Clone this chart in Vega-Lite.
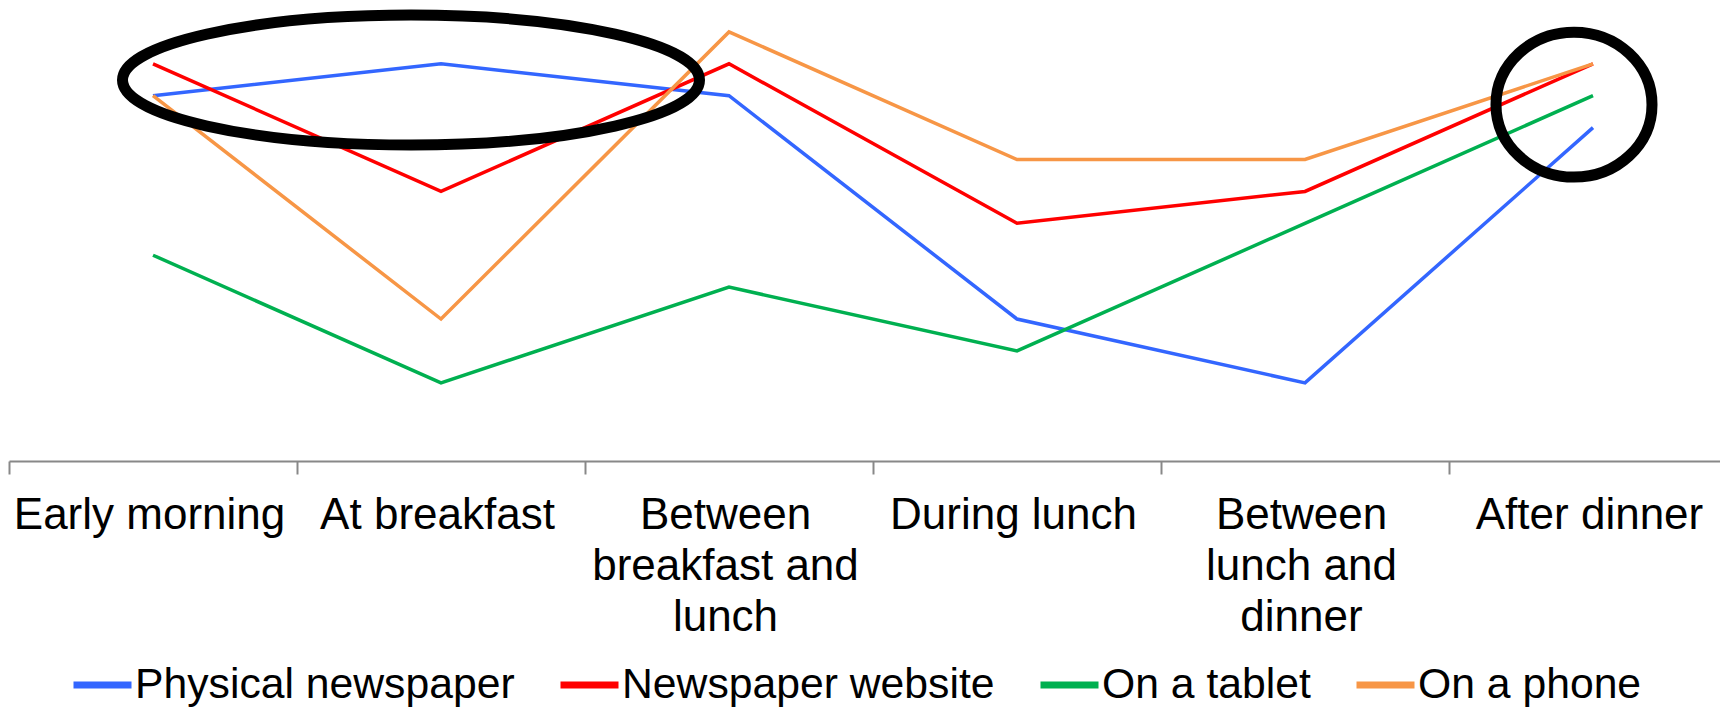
{
  "$schema": "https://vega.github.io/schema/vega-lite/v6.json",
  "width": 1711,
  "height": 461,
  "autosize": {"type": "none"},
  "padding": {"left": 9, "top": 0, "right": 0, "bottom": 246},
  "background": "white",
  "config": {
    "view": {"stroke": null},
    "font": "Liberation Sans"
  },
  "datasets": {
    "reading": [
      {"time": "Early morning", "medium": "Physical newspaper", "score": 12},
      {"time": "At breakfast", "medium": "Physical newspaper", "score": 13},
      {"time": "Between breakfast and lunch", "medium": "Physical newspaper", "score": 12},
      {"time": "During lunch", "medium": "Physical newspaper", "score": 5},
      {"time": "Between lunch and dinner", "medium": "Physical newspaper", "score": 3},
      {"time": "After dinner", "medium": "Physical newspaper", "score": 11},
      {"time": "Early morning", "medium": "Newspaper website", "score": 13},
      {"time": "At breakfast", "medium": "Newspaper website", "score": 9},
      {"time": "Between breakfast and lunch", "medium": "Newspaper website", "score": 13},
      {"time": "During lunch", "medium": "Newspaper website", "score": 8},
      {"time": "Between lunch and dinner", "medium": "Newspaper website", "score": 9},
      {"time": "After dinner", "medium": "Newspaper website", "score": 13},
      {"time": "Early morning", "medium": "On a tablet", "score": 7},
      {"time": "At breakfast", "medium": "On a tablet", "score": 3},
      {"time": "Between breakfast and lunch", "medium": "On a tablet", "score": 6},
      {"time": "During lunch", "medium": "On a tablet", "score": 4},
      {"time": "Between lunch and dinner", "medium": "On a tablet", "score": 8},
      {"time": "After dinner", "medium": "On a tablet", "score": 12},
      {"time": "Early morning", "medium": "On a phone", "score": 12},
      {"time": "At breakfast", "medium": "On a phone", "score": 5},
      {"time": "Between breakfast and lunch", "medium": "On a phone", "score": 14},
      {"time": "During lunch", "medium": "On a phone", "score": 10},
      {"time": "Between lunch and dinner", "medium": "On a phone", "score": 10},
      {"time": "After dinner", "medium": "On a phone", "score": 13}
    ],
    "highlights": [
      {"time": "At breakfast", "score": 12.49, "group": "morning"},
      {"time": "After dinner", "score": 11.72, "group": "evening"}
    ]
  },
  "encoding": {
    "x": {
      "field": "time",
      "type": "nominal",
      "sort": ["Early morning", "At breakfast", "Between breakfast and lunch", "During lunch", "Between lunch and dinner", "After dinner"],
      "scale": {"type": "band", "paddingInner": 0, "paddingOuter": 0, "range": [0, 1728]},
      "axis": {
        "title": null,
        "orient": "bottom",
        "domainColor": "#888888",
        "domainWidth": 2,
        "tickColor": "#888888",
        "tickWidth": 2,
        "tickSize": 13,
        "tickBand": "extent",
        "labelAngle": 0,
        "labelFont": "Liberation Sans",
        "labelFontSize": 44,
        "labelColor": "#000000",
        "labelPadding": 19,
        "labelOffset": -4,
        "labelLineHeight": 51,
        "labelLimit": 0,
        "labelOverlap": false,
        "labelBound": false,
        "labelFlush": false,
        "labelExpr": "datum.label == 'Between breakfast and lunch' ? ['Between', 'breakfast and', 'lunch'] : datum.label == 'Between lunch and dinner' ? ['Between', 'lunch and', 'dinner'] : datum.label"
      }
    },
    "y": {
      "field": "score",
      "type": "quantitative",
      "scale": {"domain": [0.55, 15], "nice": false, "zero": false},
      "axis": null
    }
  },
  "layer": [
    {
      "data": {"name": "reading"},
      "mark": {"type": "line", "strokeWidth": 3.5, "strokeJoin": "miter"},
      "encoding": {
        "color": {
          "field": "medium",
          "type": "nominal",
          "sort": ["Physical newspaper", "Newspaper website", "On a tablet", "On a phone"],
          "scale": {
            "domain": ["Physical newspaper", "Newspaper website", "On a tablet", "On a phone"],
            "range": ["#3366FF", "#FF0000", "#00B050", "#F79646"]
          },
          "legend": {
            "title": null,
            "orient": "none",
            "direction": "horizontal",
            "legendX": 61,
            "legendY": 652,
            "padding": 0,
            "symbolType": "stroke",
            "symbolSize": 3364,
            "symbolStrokeWidth": 7,
            "labelFont": "Liberation Sans",
            "labelFontSize": 42.7,
            "labelColor": "#000000",
            "labelOffset": 0,
            "labelLimit": 0,
            "columnPadding": 31
          }
        }
      }
    },
    {
      "data": {"name": "highlights"},
      "transform": [{"filter": "datum.group == 'morning'"}],
      "mark": {
        "type": "point",
        "filled": false,
        "stroke": "#000000",
        "strokeWidth": 11,
        "opacity": 1,
        "size": 332929,
        "xOffset": -30,
        "shape": "M -1 0 C -1 -0.1244 -0.5523 -0.2253 0 -0.2253 C 0.5523 -0.2253 1 -0.1244 1 0 C 1 0.1244 0.5523 0.2253 0 0.2253 C -0.5523 0.2253 -1 0.1244 -1 0 Z"
      }
    },
    {
      "data": {"name": "highlights"},
      "transform": [{"filter": "datum.group == 'evening'"}],
      "mark": {
        "type": "point",
        "filled": false,
        "stroke": "#000000",
        "strokeWidth": 11,
        "opacity": 1,
        "size": 24336,
        "xOffset": -19,
        "shape": "M -1 0 C -1 -0.5131 -0.5523 -0.929 0 -0.929 C 0.5523 -0.929 1 -0.5131 1 0 C 1 0.5131 0.5523 0.929 0 0.929 C -0.5523 0.929 -1 0.5131 -1 0 Z"
      }
    }
  ]
}
